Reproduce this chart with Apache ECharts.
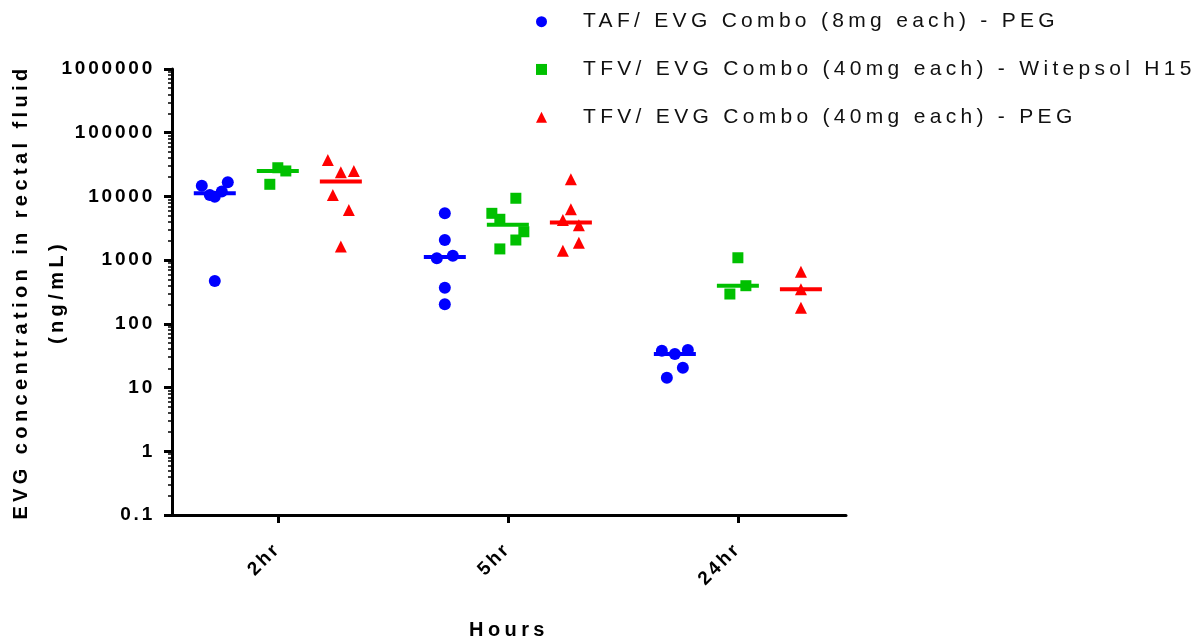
<!DOCTYPE html>
<html>
<head>
<meta charset="utf-8">
<script src="https://cdn.jsdelivr.net/npm/echarts@6/dist/echarts.min.js"></script>
<style>
  html, body { margin: 0; padding: 0; background: #ffffff; }
  #chart { width: 1193px; height: 639px; }
</style>
</head>
<body>
<div id="chart"></div>
<script>
// ---- data ----------------------------------------------------------------
const timeLabels = ['2hr', '5hr', '24hr'];
const yTickValues = [0.1, 1, 10, 100, 1000, 10000, 100000, 1000000];
const yTickLabels = ['0.1', '1', '10', '100', '1000', '10000', '100000', '1000000'];
const groupNames = [
  'TAF/ EVG Combo (8mg each) - PEG',
  'TFV/ EVG Combo (40mg each) - Witepsol H15',
  'TFV/ EVG Combo (40mg each) - PEG'
];

// EVG concentration in rectal fluid (ng/mL), one inner array per time point
const tafEvgPeg = [
  [14700, 10500, 9900, 11900, 16700, 470],
  [5430, 2070, 1070, 1175, 369, 203],
  [37.9, 33.6, 38.8, 20.5, 14.3]
];
const tfvEvgWitepsol = [
  [28200, 25100, 15500],
  [9360, 5430, 4380, 2790, 2070, 1500],
  [1090, 397, 294]
];
const tfvEvgPeg = [
  [37300, 23900, 25100, 10500, 6110, 1630],
  [18600, 6290, 4270, 3520, 1880, 1405],
  [658, 348, 179]
];

// ---- layout / style ------------------------------------------------------
// horizontal spread (px) of overlapping dots inside each column
const DOT_SPREAD = {
  taf: [[-13, -5, 0, 7, 13, 0], [0, 0, -8, 8, 0, 0], [-13, 0, 13, 8, -8]],
  wit: [[0, 8, -8], [8, -16, -8, 16, 8, -8], [0, 8, -8]],
  peg: [[-13, 0, 13, -8, 8, 0], [0, 0, -8, 8, 8, -8], [0, 0, 0]]
};
const FONT = '"Liberation Sans", Arial, Helvetica, sans-serif';

// wide character tracking for canvas text, chosen by font weight and size
const TRACKING = { 'b20': 4.4, 'b19': 2.8, 'n21': 4.3 };
function trackingFor(font) {
  const m = /(\d+(?:\.\d+)?)px/.exec(font || '');
  if (!m) return 0;
  const bold = /bold|700/.test(font) ? 'b' : 'n';
  return TRACKING[bold + Math.round(parseFloat(m[1]))] || 0;
}
(function () {
  const proto = CanvasRenderingContext2D.prototype;
  ['fillText', 'strokeText', 'measureText'].forEach(function (fn) {
    const orig = proto[fn];
    proto[fn] = function () {
      this.letterSpacing = trackingFor(this.font) + 'px';
      return orig.apply(this, arguments);
    };
  });
})();

function median(arr) {
  const s = arr.slice().sort((a, b) => a - b);
  const n = s.length;
  return n % 2 ? s[(n - 1) / 2] : (s[n / 2 - 1] + s[n / 2]) / 2;
}

const groups = [
  { name: groupNames[0], values: tafEvgPeg, spread: DOT_SPREAD.taf, shift: -0.274, color: '#0000ff', symbol: 'circle', size: 12 },
  { name: groupNames[1], values: tfvEvgWitepsol, spread: DOT_SPREAD.wit, shift: 0, color: '#00c000', symbol: 'rect', size: 11 },
  { name: groupNames[2], values: tfvEvgPeg, spread: DOT_SPREAD.peg, shift: 0.274, color: '#ff0000', symbol: 'triangle', size: 12 }
];

const series = [];
groups.forEach(function (g) {
  series.push({
    type: 'scatter',
    name: g.name,
    symbol: g.symbol,
    symbolSize: g.size,
    itemStyle: { color: g.color, opacity: 1 },
    emphasis: { disabled: true },
    data: g.values.flatMap(function (vals, t) {
      return vals.map(function (v, i) {
        return { value: [t + 1 + g.shift, v], symbolOffset: [g.spread[t][i], 0] };
      });
    })
  });
  // median bar of each column
  series.push({
    type: 'scatter',
    name: g.name + ' median',
    symbol: 'rect',
    symbolSize: [42, 4],
    itemStyle: { color: g.color, opacity: 1 },
    emphasis: { disabled: true },
    silent: true,
    data: g.values.map(function (vals, t) { return [t + 1 + g.shift, median(vals)]; })
  });
});

const minorTickValues = [];
for (let e = -1; e < 6; e++) {
  for (let k = 2; k <= 9; k++) minorTickValues.push(k * Math.pow(10, e));
}

const chart = echarts.init(document.getElementById('chart'), null, { renderer: 'canvas' });
chart.setOption({
  animation: false,
  backgroundColor: '#ffffff',
  grid: { left: 172, right: 347, top: 69, bottom: 124, containLabel: false, outerBoundsMode: 'none' },
  legend: {
    orient: 'vertical',
    left: 531,
    top: 4,
    data: groupNames,
    selectedMode: false,
    itemWidth: 11,
    itemHeight: 11,
    itemGap: 22.5,
    textStyle: { fontFamily: FONT, fontSize: 21, fontWeight: 'normal', color: '#111111', padding: [0, 0, 0, 31], lineHeight: 22 }
  },
  xAxis: {
    type: 'value',
    min: 0.54,
    max: 3.47,
    splitLine: { show: false },
    axisLine: { onZero: false, lineStyle: { color: '#000000', width: 3 } },
    axisTick: { show: true, length: 8, customValues: [1, 2, 3], lineStyle: { color: '#000000', width: 3 } },
    axisLabel: {
      customValues: [1, 2, 3],
      rotate: 45,
      margin: 31,
      formatter: function (v) { return timeLabels[Math.round(v) - 1]; },
      fontFamily: FONT, fontSize: 19, fontWeight: 'bold', color: '#000000'
    },
    name: 'Hours',
    nameLocation: 'middle',
    nameGap: 103,
    nameMoveOverlap: false,
    nameTextStyle: { fontFamily: FONT, fontSize: 20, fontWeight: 'bold', color: '#000000' }
  },
  yAxis: [
    {
      type: 'log',
      logBase: 10,
      min: 0.1,
      max: 1000000,
      position: 'left',
      splitLine: { show: false },
      axisLine: { show: true, onZero: false, lineStyle: { color: '#000000', width: 3 } },
      axisTick: { show: true, length: 8, customValues: yTickValues, lineStyle: { color: '#000000', width: 3 } },
      axisLabel: {
        customValues: yTickValues,
        margin: 17,
        formatter: function (v) { return yTickLabels[Math.round(Math.log10(v)) + 1]; },
        fontFamily: FONT, fontSize: 19, fontWeight: 'bold', color: '#000000'
      },
      name: 'EVG concentration in rectal fluid\n(ng/mL)',
      nameLocation: 'middle',
      nameRotate: 90,
      nameGap: 97,
      nameMoveOverlap: false,
      nameTextStyle: { fontFamily: FONT, fontSize: 20, fontWeight: 'bold', color: '#000000', lineHeight: 36, align: 'center' }
    },
    {
      // minor log ticks
      type: 'log',
      logBase: 10,
      min: 0.1,
      max: 1000000,
      position: 'left',
      splitLine: { show: false },
      axisLine: { show: false, onZero: false },
      axisTick: { show: true, length: 4, customValues: minorTickValues, lineStyle: { color: '#000000', width: 1.5 } },
      axisLabel: { show: false }
    }
  ],
  series: series
});
</script>
</body>
</html>
